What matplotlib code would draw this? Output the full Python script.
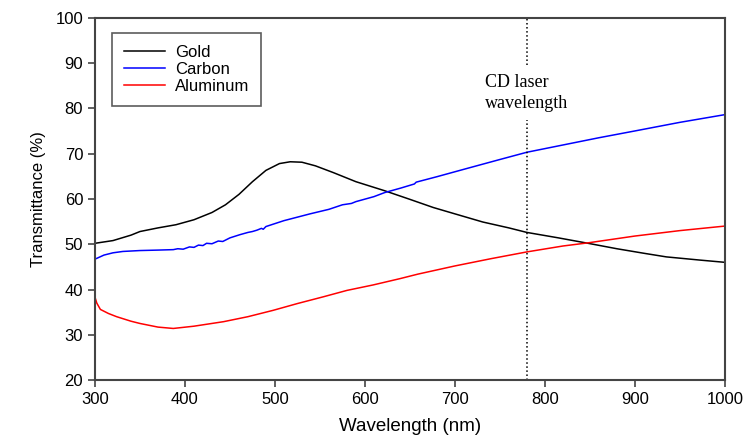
import matplotlib
matplotlib.use("Agg")
import matplotlib.pyplot as plt

# Transmittance spectra
gold_nm = [300, 320, 340, 350, 370, 390, 410, 430, 445, 460, 475, 490, 505, 517,
           530, 545, 565, 590, 622, 650, 676, 700, 731, 760, 780, 815, 848, 880,
           910, 935, 972, 1000]
gold_t = [50.2, 50.8, 52.0, 52.8, 53.6, 54.3, 55.4, 57.0, 58.7, 61.0, 63.8, 66.3,
          67.8, 68.2, 68.1, 67.3, 65.8, 63.8, 61.8, 59.9, 58.1, 56.7, 54.9, 53.6,
          52.6, 51.4, 50.2, 49.0, 48.0, 47.2, 46.5, 46.0]

carbon_nm = [300, 310, 320, 331, 350, 370, 387, 392, 398, 405, 410, 415, 420, 424,
             430, 437, 442, 450, 461, 470, 475, 480, 485, 487, 490, 510, 539, 560,
             575, 585, 590, 610, 622, 640, 655, 657, 680, 713, 750, 780, 820, 860,
             900, 950, 1000]
carbon_t = [46.7, 47.6, 48.1, 48.4, 48.6, 48.7, 48.8, 49.0, 48.9, 49.4, 49.3, 49.8,
            49.7, 50.2, 50.1, 50.7, 50.6, 51.4, 52.1, 52.6, 52.8, 53.1, 53.5, 53.3,
            53.9, 55.2, 56.7, 57.7, 58.7, 59.0, 59.4, 60.5, 61.4, 62.4, 63.3, 63.7,
            64.9, 66.7, 68.7, 70.3, 71.9, 73.5, 75.0, 76.9, 78.6]

alu_nm = [300, 302, 306, 315, 324, 340, 350, 370, 387, 410, 443, 470, 498, 525,
          554, 580, 609, 639, 659, 700, 740, 780, 820, 848, 900, 950, 1000]
alu_t = [38.3, 37.0, 35.6, 34.7, 34.0, 33.0, 32.5, 31.7, 31.4, 31.9, 32.9, 34.0,
         35.4, 36.9, 38.4, 39.8, 41.0, 42.4, 43.4, 45.2, 46.8, 48.3, 49.6, 50.3,
         51.8, 53.0, 54.0]

laser_nm = 780
x_ticks = [300, 400, 500, 600, 700, 800, 900, 1000]
y_ticks = [20, 30, 40, 50, 60, 70, 80, 90, 100]

plt.rcParams['font.family'] = ['Liberation Sans', 'DejaVu Sans']

fig = plt.figure(figsize=(7.48, 4.43), dpi=100)
ax = fig.add_axes([0.127, 0.142, 0.842, 0.818])

ax.plot(gold_nm, gold_t, color='black', lw=1.1, label='Gold')
ax.plot(carbon_nm, carbon_t, color='blue', lw=1.1, label='Carbon')
ax.plot(alu_nm, alu_t, color='red', lw=1.1, label='Aluminum')

# dotted marker for the CD laser wavelength, broken around the text
ax.vlines(laser_nm, 20, 77.4, colors='black', linestyles=':', lw=1.1)
ax.vlines(laser_nm, 89.5, 100, colors='black', linestyles=':', lw=1.1)
ax.text(733, 87.5, 'CD laser\nwavelength', family='Liberation Serif',
        fontsize=13, va='top', ha='left', linespacing=1.25)

ax.set_xlim(300, 1000)
ax.set_ylim(20, 100)
ax.set_xticks(x_ticks)
ax.set_yticks(y_ticks)
ax.tick_params(direction='out', length=5, width=1.2, labelsize=12,
               color='#444444', top=False, right=False)
for sp in ax.spines.values():
    sp.set_linewidth(1.5)
    sp.set_color('#444444')

ax.set_xlabel('Wavelength (nm)', fontsize=13.5, labelpad=8)
ax.set_ylabel('Transmittance (%)', fontsize=12, labelpad=7)

leg = ax.legend(loc='upper left', bbox_to_anchor=(0.027, 0.957), borderaxespad=0,
                fancybox=False, edgecolor='#333333', fontsize=12,
                handlelength=2.5, handletextpad=0.6, labelspacing=0.12,
                borderpad=0.7)
leg.get_frame().set_linewidth(1.2)

fig.savefig('out.png', dpi=100)
